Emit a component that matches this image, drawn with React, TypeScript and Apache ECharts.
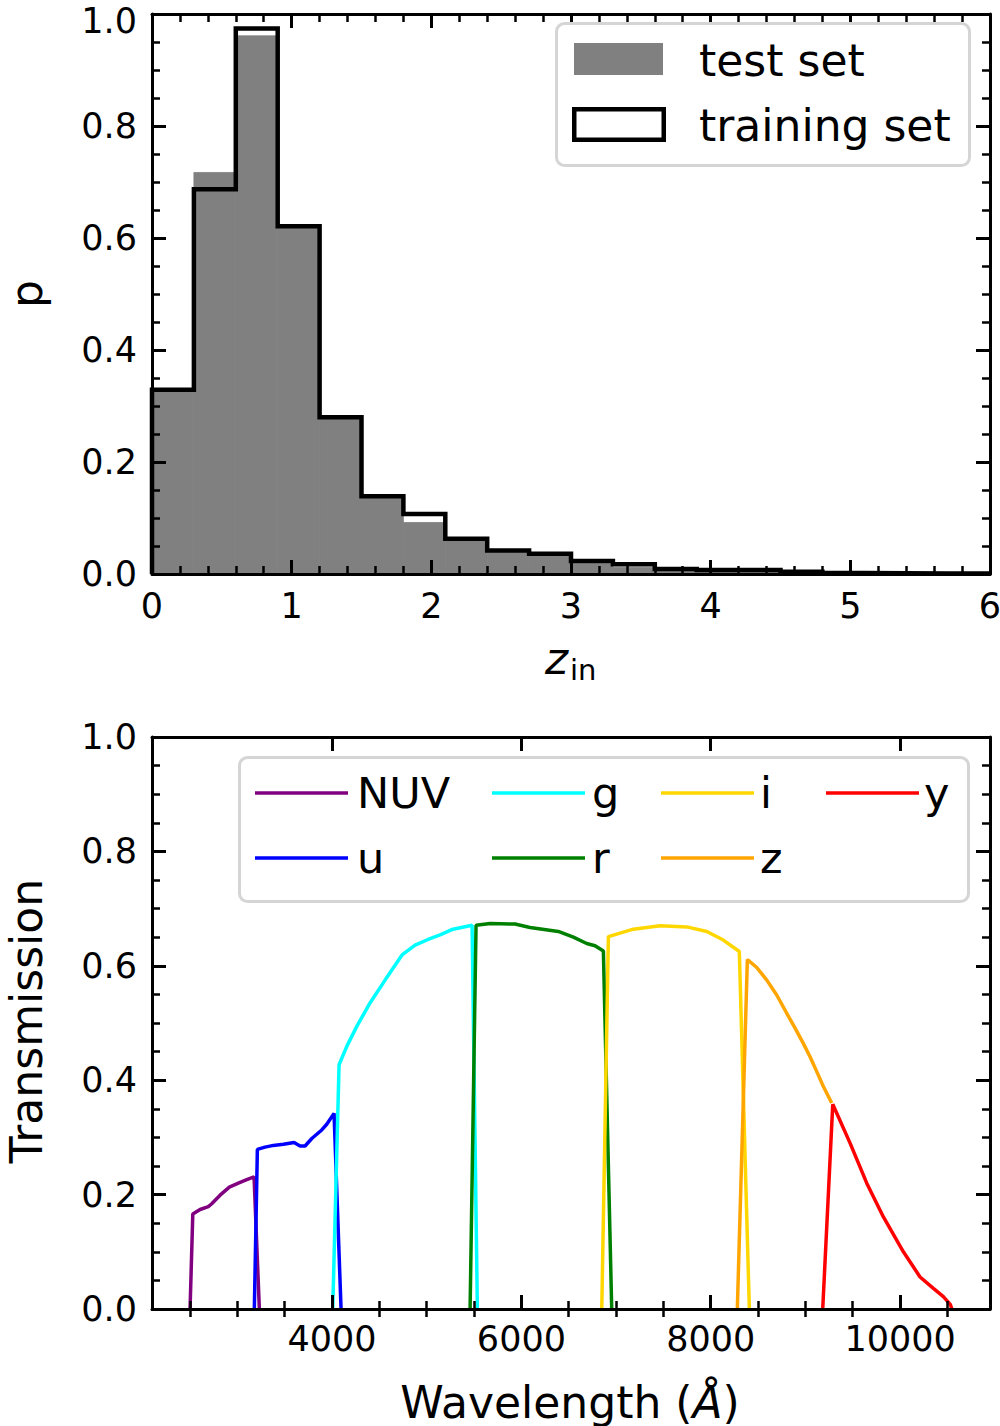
import React, { useEffect, useRef } from 'react';
import * as echarts from 'echarts';

// ---------- top panel: redshift histograms ----------
const binEdges = [0, 0.3, 0.6, 0.9, 1.2, 1.5, 1.8, 2.1, 2.4, 2.7, 3.0, 3.3, 3.6, 3.9, 4.2, 4.5, 4.8, 5.1, 5.4, 5.7, 6.0];
const trainingSet = [0.329, 0.687, 0.974, 0.621, 0.28, 0.139, 0.107, 0.063, 0.042, 0.036, 0.023, 0.0175, 0.009, 0.007, 0.007, 0.004, 0.002, 0.0015, 0.001, 0.0008];
const testSet = [0.329, 0.717, 0.961, 0.621, 0.28, 0.139, 0.092, 0.062, 0.041, 0.034, 0.019, 0.012, 0.006, 0.005, 0.005, 0.003, 0.0015, 0.001, 0.0008, 0.0005];
const histLegend = ['test set', 'training set'];

// ---------- bottom panel: filter transmission curves ----------
const filterNames = ['NUV', 'u', 'g', 'r', 'i', 'z', 'y'];
const filterColors = ['#800080', '#0000ff', '#00ffff', '#008000', '#ffd700', '#ffa500', '#ff0000'];
const nuvWave = [2500, 2529, 2606, 2693, 2729, 2817, 2915, 3010, 3099, 3176, 3232];
const nuvTrans = [0, 0.166, 0.174, 0.179, 0.184, 0.199, 0.213, 0.22, 0.226, 0.231, 0];
const uWave = [3179, 3211, 3292, 3380, 3486, 3599, 3662, 3715, 3786, 3891, 3944, 4021, 4095];
const uTrans = [0, 0.279, 0.283, 0.286, 0.288, 0.291, 0.285, 0.285, 0.298, 0.313, 0.323, 0.342, 0];
const gWave = [4007, 4074, 4158, 4264, 4401, 4560, 4739, 4877, 5014, 5141, 5278, 5479, 5535];
const gTrans = [0, 0.427, 0.46, 0.495, 0.535, 0.575, 0.619, 0.636, 0.646, 0.654, 0.664, 0.671, 0];
const rWave = [5458, 5521, 5669, 5933, 6091, 6390, 6549, 6690, 6778, 6866, 6954];
const rTrans = [0, 0.671, 0.674, 0.673, 0.667, 0.66, 0.65, 0.639, 0.635, 0.626, 0];
const iWave = [6849, 6919, 7183, 7465, 7747, 7958, 8133, 8302, 8408];
const iTrans = [0, 0.651, 0.664, 0.67, 0.668, 0.66, 0.645, 0.625, 0];
const zWave = [8281, 8387, 8486, 8592, 8697, 8803, 8891, 8979, 9049, 9120, 9190, 9278];
const zTrans = [0, 0.611, 0.597, 0.575, 0.549, 0.517, 0.491, 0.464, 0.441, 0.415, 0.389, 0.36];
const yWave = [9183, 9289, 9472, 9648, 9824, 10035, 10211, 10352, 10457, 10530, 10548];
const yTrans = [0, 0.358, 0.29, 0.22, 0.161, 0.1, 0.056, 0.036, 0.0215, 0.008, 0];
const filterWaves = [nuvWave, uWave, gWave, rWave, iWave, zWave, yWave];
const filterTrans = [nuvTrans, uTrans, gTrans, rTrans, iTrans, zTrans, yTrans];

const waveMajorTicks = [4000, 6000, 8000, 10000];
const waveMinorTicks = [2500, 3000, 3500, 4500, 5000, 5500, 6500, 7000, 7500, 8500, 9000, 9500, 10500];

const FONT = 'DejaVu Sans';

function baseAxis(extra: any) {
  return {
    type: 'value',
    z: 10,
    axisLine: { show: true, onZero: false, lineStyle: { color: '#000', width: 3 } },
    axisTick: { show: true, inside: true, length: 14, lineStyle: { color: '#000', width: 3 } },
    splitLine: { show: false },
    axisLabel: { show: false },
    ...extra,
  };
}

const minorStyle = (n: number) => ({ show: true, splitNumber: n, length: 8, lineStyle: { color: '#000', width: 2.5 } });
const labelStyle = (margin: number, formatter?: any, rich?: any) => ({
  show: true,
  margin,
  fontSize: 35,
  lineHeight: 27,
  color: '#000',
  fontFamily: FONT,
  ...(formatter ? { formatter } : {}),
  ...(rich ? { rich } : {}),
});

export default function App() {
  const ref = useRef<HTMLDivElement>(null);

  useEffect(() => {
    document.body.style.margin = '0';
    const chart = echarts.init(ref.current!, null, { renderer: 'svg' });

    const testData = testSet.map((v, i) => [binEdges[i], binEdges[i + 1], v]);
    const trainData: number[][] = [[binEdges[0], 0]];
    trainingSet.forEach((v, i) => trainData.push([binEdges[i], v]));
    trainData.push([binEdges[binEdges.length - 1], trainingSet[trainingSet.length - 1]]);
    trainData.push([binEdges[binEdges.length - 1], 0]);

    const filterSeries = filterNames.map((name, k) => ({
      type: 'line',
      name,
      xAxisIndex: 2,
      yAxisIndex: 2,
      data: filterWaves[k].map((w, j) => [w, filterTrans[k][j]]),
      symbol: 'none',
      lineStyle: { color: filterColors[k], width: 3.5 },
      z: 2 + k * 0.01,
    }));

    const graphics: any[] = [];
    // top legend
    graphics.push({
      type: 'rect', z: 100,
      shape: { x: 556.5, y: 23.5, width: 413, height: 142, r: 8 },
      style: { fill: '#fff', stroke: '#d5d5d5', lineWidth: 3 },
    });
    graphics.push({ type: 'rect', z: 101, shape: { x: 574, y: 43, width: 89, height: 32 }, style: { fill: '#808080' } });
    graphics.push({
      type: 'rect', z: 101,
      shape: { x: 574.25, y: 109.25, width: 89.5, height: 30.5 },
      style: { fill: '#fff', stroke: '#000', lineWidth: 4.5 },
    });
    histLegend.forEach((t, i) => {
      graphics.push({
        type: 'text', z: 101, x: 699, y: 60 + i * 65,
        style: { text: t, fontSize: 44, lineHeight: 44, fontFamily: FONT, fill: '#000', align: 'left', verticalAlign: 'middle' },
      });
    });
    // bottom legend
    graphics.push({
      type: 'rect', z: 100,
      shape: { x: 239.5, y: 757.5, width: 729, height: 144, r: 8 },
      style: { fill: '#fff', stroke: '#d5d5d5', lineWidth: 3 },
    });
    const colX = [255, 492, 661, 826];
    const textX = [357, 592, 760, 924];
    const rowY = [793, 858];
    // matplotlib column-major order with 2 rows
    filterNames.forEach((name, k) => {
      const col = Math.floor(k / 2);
      const row = k % 2;
      graphics.push({
        type: 'line', z: 101,
        shape: { x1: colX[col], y1: rowY[row], x2: colX[col] + 93, y2: rowY[row] },
        style: { stroke: filterColors[k], lineWidth: 3.5 },
      });
      graphics.push({
        type: 'text', z: 101, x: textX[col], y: rowY[row],
        style: { text: name, fontSize: 43, lineHeight: 43, fontFamily: FONT, fill: '#000', align: 'left', verticalAlign: 'middle' },
      });
    });
    // axis titles
    graphics.push({
      type: 'text', x: 26, y: 294, rotation: Math.PI / 2,
      style: { text: 'p', fontSize: 44, lineHeight: 34, fontFamily: FONT, fill: '#000', align: 'center', verticalAlign: 'middle' },
    });
    graphics.push({
      type: 'text', x: 26, y: 1021, rotation: Math.PI / 2,
      style: { text: 'Transmission', fontSize: 44, lineHeight: 34, fontFamily: FONT, fill: '#000', align: 'center', verticalAlign: 'middle' },
    });
    graphics.push({
      type: 'text', x: 545, y: 658,
      style: { text: 'z', fontSize: 44, lineHeight: 44, fontStyle: 'italic', fontFamily: FONT, fill: '#000', align: 'left', verticalAlign: 'middle' },
    });
    graphics.push({
      type: 'text', x: 570, y: 670,
      style: { text: 'in', fontSize: 29, lineHeight: 29, fontFamily: FONT, fill: '#000', align: 'left', verticalAlign: 'middle' },
    });
    graphics.push({
      type: 'text', x: 570, y: 1402,
      style: {
        text: '{a|Wavelength (}{b|Å}{a|)}',
        align: 'center', verticalAlign: 'middle',
        rich: {
          a: { fontSize: 44, lineHeight: 44, fontFamily: FONT, fill: '#000' },
          b: { fontSize: 44, lineHeight: 44, fontFamily: FONT, fontStyle: 'italic', fill: '#000' },
        },
      },
    });

    const topYLabel = (v: number) => (v >= 1 ? '{t|' + v.toFixed(1) + '}' : v.toFixed(1));
    const topYRich = { t: { fontSize: 35, fontFamily: FONT, color: '#000', lineHeight: 27, padding: [14, 0, 0, 0] } };

    const option: any = {
      animation: false,
      backgroundColor: '#fff',
      textStyle: { fontFamily: FONT },
      grid: [
        { left: 152, top: 14, width: 838, height: 560, containLabel: false, outerBoundsMode: 'none' },
        { left: 152, top: 737, width: 838, height: 572, containLabel: false, outerBoundsMode: 'none' },
      ],
      xAxis: [
        baseAxis({ gridIndex: 0, position: 'bottom', min: 0, max: 6, interval: 1, minorTick: minorStyle(5), axisLabel: labelStyle(18, (v: number) => String(v)) }),
        baseAxis({ gridIndex: 0, position: 'top', min: 0, max: 6, interval: 1, minorTick: minorStyle(5) }),
        baseAxis({
          gridIndex: 1, position: 'bottom', min: 2098, max: 10950,
          axisTick: { show: true, inside: true, length: 14, customValues: waveMajorTicks, lineStyle: { color: '#000', width: 3 } },
          axisLabel: { ...labelStyle(16, (v: number) => String(v)), customValues: waveMajorTicks },
        }),
        baseAxis({
          gridIndex: 1, position: 'bottom', min: 2098, max: 10950,
          axisLine: { show: false },
          axisTick: { show: true, inside: true, length: 8, customValues: waveMinorTicks, lineStyle: { color: '#000', width: 2.5 } },
        }),
        baseAxis({
          gridIndex: 1, position: 'top', min: 2098, max: 10950,
          axisTick: { show: true, inside: true, length: 14, customValues: waveMajorTicks, lineStyle: { color: '#000', width: 3 } },
        }),
        baseAxis({
          gridIndex: 1, position: 'top', min: 2098, max: 10950,
          axisLine: { show: false },
          axisTick: { show: true, inside: true, length: 8, customValues: waveMinorTicks, lineStyle: { color: '#000', width: 2.5 } },
        }),
      ],
      yAxis: [
        baseAxis({ gridIndex: 0, position: 'left', min: 0, max: 1, interval: 0.2, minorTick: minorStyle(4), axisLabel: labelStyle(15, topYLabel, topYRich) }),
        baseAxis({ gridIndex: 0, position: 'right', min: 0, max: 1, interval: 0.2, minorTick: minorStyle(4) }),
        baseAxis({ gridIndex: 1, position: 'left', min: 0, max: 1, interval: 0.2, minorTick: minorStyle(4), axisLabel: labelStyle(15, (v: number) => v.toFixed(1)) }),
        baseAxis({ gridIndex: 1, position: 'right', min: 0, max: 1, interval: 0.2, minorTick: minorStyle(4) }),
      ],
      series: [
        {
          type: 'custom',
          name: 'test set',
          xAxisIndex: 0,
          yAxisIndex: 0,
          encode: { x: [0, 1], y: 2 },
          data: testData,
          z: 1,
          renderItem: (params: any, api: any) => {
            const p0 = api.coord([api.value(0), api.value(2)]);
            const p1 = api.coord([api.value(1), 0]);
            return {
              type: 'rect',
              shape: { x: p0[0], y: p0[1], width: p1[0] - p0[0], height: p1[1] - p0[1] },
              style: { fill: '#808080', stroke: '#808080', lineWidth: 0.8 },
            };
          },
        },
        {
          type: 'line',
          name: 'training set',
          xAxisIndex: 0,
          yAxisIndex: 0,
          step: 'end',
          data: trainData,
          symbol: 'none',
          z: 3,
          lineStyle: { color: '#000', width: 4.5, join: 'miter' },
        },
        ...filterSeries,
      ],
      graphic: graphics,
    };

    chart.setOption(option);
    return () => chart.dispose();
  }, []);

  return <div ref={ref} style={{ width: 1000, height: 1426 }} />;
}
